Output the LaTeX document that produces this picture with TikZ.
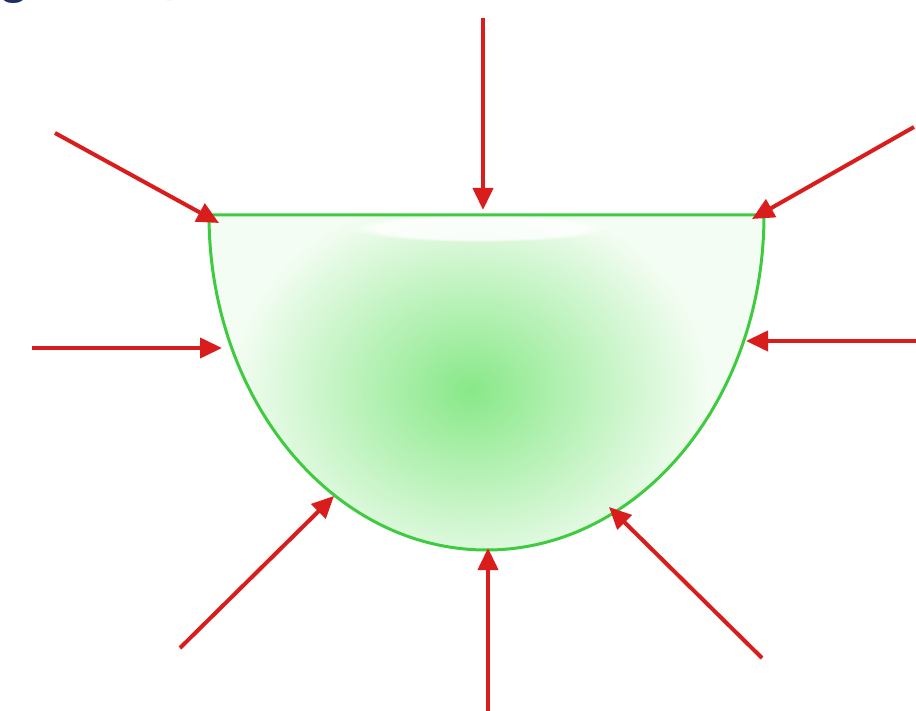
\documentclass[tikz,border=0pt]{standalone}
\usepackage{fontspec}
\setmainfont{Liberation Sans}
\usetikzlibrary{arrows.meta,fadings}
\definecolor{arrred}{HTML}{D91C1C}
\definecolor{edgegreen}{HTML}{3FCB3F}
\definecolor{coregreen}{HTML}{88E888}
\definecolor{palegreen}{HTML}{F4FDF3}
\definecolor{navy}{HTML}{1F2D66}
\tikzset{
  force/.style={draw=arrred, line width=4pt, -{Triangle[length=22pt,width=20pt]}},
  bowl/.style={draw=edgegreen, line width=3pt},
  cutword/.style={text=navy, font=\bfseries\fontsize{52}{60}\selectfont, inner sep=0pt, anchor=base west}
}
\begin{document}
\begin{tikzpicture}[x=1pt,y=-1pt]
\useasboundingbox (0,0) rectangle (916,711);
\fill[white] (0,0) rectangle (916,711);
% cut-off heading fragments
\node[cutword] (hg) at (-2,-7) {g};
\node[cutword] (hc) at (163,-7) {,};
% bowl fill
\begin{scope}
  \clip (209,215) -- (764,215) arc[start angle=0, end angle=180, x radius=277.5, y radius=335] -- cycle;
  \fill[palegreen] (200,200) rectangle (780,560);
  \shade[inner color=coregreen, outer color=palegreen] (470,390) ellipse[x radius=240, y radius=200];
  \fill[white, opacity=0.85, path fading=circle with fuzzy edge 20 percent] (480,228) ellipse[x radius=130, y radius=14];
\end{scope}
\draw[bowl] (209,215) -- (764,215) arc[start angle=0, end angle=180, x radius=277.5, y radius=335] -- cycle;
% coordinates
\coordinate (t0) at (483,18);   \coordinate (t1) at (483,210);
\coordinate (tl0) at (55,133);  \coordinate (tl1) at (219,223);
\coordinate (tr0) at (914,127); \coordinate (tr1) at (752,219);
\coordinate (l0) at (32,348);   \coordinate (l1) at (222,348);
\coordinate (r0) at (916,341);  \coordinate (r1) at (746,341);
\coordinate (bl0) at (180,648); \coordinate (bl1) at (334,496);
\coordinate (b0) at (488,711);  \coordinate (b1) at (488,548);
\coordinate (br0) at (762,658); \coordinate (br1) at (609,507);
\draw[force] (t0) -- (t1);
\draw[force] (tl0) -- (tl1);
\draw[force] (tr0) -- (tr1);
\draw[force] (l0) -- (l1);
\draw[force] (r0) -- (r1);
\draw[force] (bl0) -- (bl1);
\draw[force] (b0) -- (b1);
\draw[force] (br0) -- (br1);
\end{tikzpicture}
\end{document}
